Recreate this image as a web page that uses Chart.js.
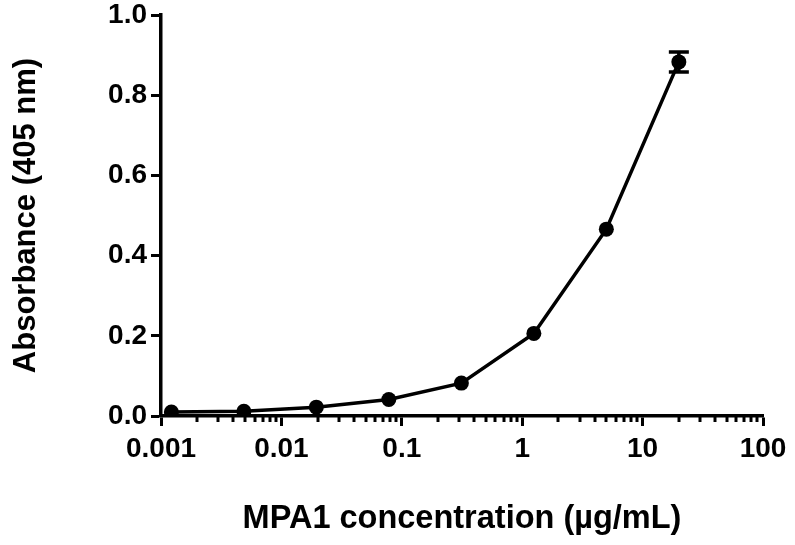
<!DOCTYPE html>
<html>
<head>
<meta charset="utf-8">
<script src="https://cdn.jsdelivr.net/npm/chart.js@4/dist/chart.umd.min.js"></script>
<style>
html,body{margin:0;padding:0;background:#fff;}
#wrap{width:795px;height:545px;position:relative;}
</style>
</head>
<body>
<div id="wrap"><canvas id="c" width="795" height="545"></canvas></div>
<script>
// Data
const concentrations = [0.00122, 0.00488, 0.0195, 0.078, 0.3125, 1.25, 5, 20];
const absorbance     = [0.010, 0.012, 0.022, 0.041, 0.082, 0.206, 0.466, 0.883];
const errorSD        = [0, 0, 0, 0, 0, 0, 0, 0.025];
const xTickValues = [0.001, 0.01, 0.1, 1, 10, 100];
const xTickLabels = ['0.001', '0.01', '0.1', '1', '10', '100'];
const yTickValues = [0.0, 0.2, 0.4, 0.6, 0.8, 1.0];
const yTickLabels = ['0.0', '0.2', '0.4', '0.6', '0.8', '1.0'];
const xTitle = 'MPA1 concentration (µg/mL)';
const yTitle = 'Absorbance (405 nm)';

const FONT = '"Liberation Sans", Arial, Helvetica, sans-serif';

const minorTickPlugin = {
  id: 'minorTicks',
  afterDraw(chart) {
    const ctx = chart.ctx;
    const xs = chart.scales.x;
    const y0 = chart.chartArea.bottom;
    ctx.save();
    ctx.strokeStyle = '#000';
    ctx.lineWidth = 3;
    for (let i = 0; i < xTickValues.length - 1; i++) {
      for (let m = 2; m <= 9; m++) {
        const v = xTickValues[i] * m;
        const px = Math.round(xs.getPixelForValue(v));
        ctx.beginPath();
        ctx.moveTo(px, y0);
        ctx.lineTo(px, y0 + 6);
        ctx.stroke();
      }
    }
    ctx.restore();
  }
};

const errorBarPlugin = {
  id: 'errorBars',
  afterDatasetsDraw(chart) {
    const ctx = chart.ctx;
    const xs = chart.scales.x, ys = chart.scales.y;
    ctx.save();
    ctx.strokeStyle = '#000';
    ctx.lineWidth = 3.5;
    for (let i = 0; i < concentrations.length; i++) {
      const e = errorSD[i];
      if (!e) continue;
      const px = xs.getPixelForValue(concentrations[i]);
      const pt = ys.getPixelForValue(absorbance[i] + e);
      const pb = ys.getPixelForValue(absorbance[i] - e);
      ctx.beginPath();
      ctx.moveTo(px, pt); ctx.lineTo(px, pb);
      ctx.moveTo(px - 10, pt); ctx.lineTo(px + 10, pt);
      ctx.moveTo(px - 10, pb); ctx.lineTo(px + 10, pb);
      ctx.stroke();
    }
    ctx.restore();
  }
};

new Chart(document.getElementById('c'), {
  type: 'line',
  data: {
    datasets: [{
      data: concentrations.map((x, i) => ({x: x, y: absorbance[i]})),
      borderColor: '#000',
      backgroundColor: '#000',
      borderWidth: 3.5,
      pointRadius: 7.5,
      pointBackgroundColor: '#000',
      pointBorderWidth: 0,
      tension: 0
    }]
  },
  plugins: [minorTickPlugin, errorBarPlugin],
  options: {
    responsive: false,
    animation: false,
    events: [],
    layout: {padding: {left: 0, right: 32, top: 15, bottom: 0}},
    plugins: {legend: {display: false}, tooltip: {enabled: false}},
    scales: {
      x: {
        type: 'logarithmic',
        min: 0.001, max: 100,
        afterBuildTicks(scale) { scale.ticks = xTickValues.map(v => ({value: v, major: true})); },
        afterFit(scale) { scale.height = 129; scale.paddingLeft = 0; scale.paddingRight = 0; },
        ticks: {
          autoSkip: false, maxRotation: 0,
          padding: 6,
          color: '#000',
          font: {family: FONT, size: 28, weight: 'bold'},
          callback: (v) => { const i = xTickValues.indexOf(v); return i >= 0 ? xTickLabels[i] : ''; }
        },
        grid: {drawOnChartArea: false, drawTicks: true, tickLength: 10, tickWidth: 3, tickColor: '#000'},
        border: {display: true, color: '#000', width: 3.5},
        title: {display: true, text: xTitle, color: '#000',
          font: {family: FONT, size: 32.5, weight: 'bold', lineHeight: 1.2},
          padding: {top: 0, bottom: 6}}
      },
      y: {
        min: 0, max: 1.0,
        afterBuildTicks(scale) { scale.ticks = yTickValues.map(v => ({value: v})); },
        afterFit(scale) { scale.width = 161; scale.paddingTop = 0; scale.paddingBottom = 0; },
        ticks: {
          color: '#000', padding: 4,
          font: {family: FONT, size: 28, weight: 'bold'},
          callback: (v) => { const i = yTickValues.findIndex(t => Math.abs(t - v) < 1e-9); return i >= 0 ? yTickLabels[i] : ''; }
        },
        grid: {drawOnChartArea: false, drawTicks: true, tickLength: 10, tickWidth: 3, tickColor: '#000'},
        border: {display: true, color: '#000', width: 3.5},
        title: {display: true, text: yTitle, color: '#000',
          font: {family: FONT, size: 31, weight: 'bold', lineHeight: 1.2},
          padding: {top: 8, bottom: 0}}
      }
    }
  }
});
</script>
</body>
</html>
